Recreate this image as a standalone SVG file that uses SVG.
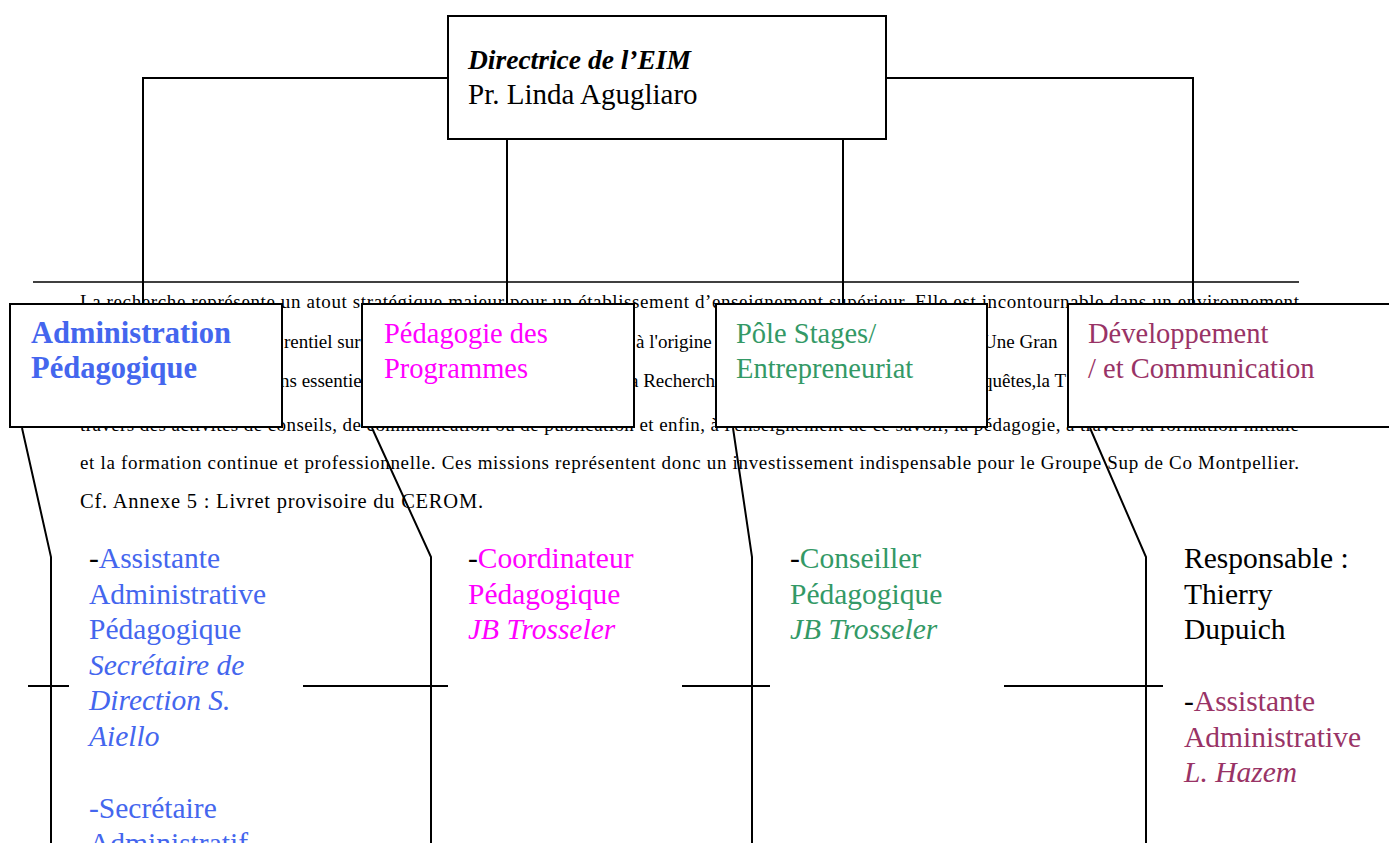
<svg xmlns="http://www.w3.org/2000/svg" width="1389" height="843" viewBox="0 0 1389 843">
<style>
.doc{font-family:"Liberation Serif",serif;font-size:19px;fill:#000}
.ln{stroke:#000;stroke-width:2;fill:none}
.box{fill:#fff;stroke:#000;stroke-width:2}
.t{font-family:"Liberation Serif",serif;font-size:29.5px}
.h{font-family:"Liberation Serif",serif;font-size:28.5px}
.it{font-style:italic}
.blue{fill:#4466EE}.mag{fill:#FF00FF}.grn{fill:#339966}.dev{fill:#993366}.blk{fill:#000}
</style>
<g id="document-text">
<line class="ln" x1="33" y1="282" x2="1299" y2="282" style="stroke-width:1.5"/>
<text class="doc" x="80" y="308" textLength="1219" lengthAdjust="spacing">La recherche représente un atout stratégique majeur pour un établissement d’enseignement supérieur. Elle est incontournable dans un environnement</text>
<text class="doc" x="284" y="348">rentiel  sur</text>
<text class="doc" x="636" y="348">à l'origine</text>
<text class="doc" x="983" y="348">Une Gran</text>
<text class="doc" x="280" y="387">ns essentie</text>
<text class="doc" x="630" y="387">a Recherche</text>
<text class="doc" x="983" y="387">quêtes,la T</text>
<text class="doc" x="80" y="431" textLength="1219" lengthAdjust="spacing">travers des activités de conseils, de communication ou de publication et enfin, à l'enseignement de ce savoir, la pédagogie, à travers la formation initiale</text>
<text class="doc" x="80" y="469" textLength="1219" lengthAdjust="spacing">et la formation continue et professionnelle. Ces missions représentent donc un investissement indispensable pour le Groupe Sup de Co Montpellier.</text>
<text class="doc" x="80" y="508" style="font-size:20.5px" textLength="403" lengthAdjust="spacing">Cf. Annexe 5 : Livret provisoire du CEROM.</text>
</g>
<g id="connectors">
<polyline class="ln" points="448,78 143,78 143,304"/>
<polyline class="ln" points="886,78 1193,78 1193,304"/>
<line class="ln" x1="507" y1="139" x2="507" y2="304"/>
<line class="ln" x1="843" y1="139" x2="843" y2="304"/>
<polyline class="ln" points="22,428 51,557 51,843"/>
<polyline class="ln" points="372,428 431,557 431,843"/>
<polyline class="ln" points="733,428 752,557 752,843"/>
<polyline class="ln" points="1090,428 1146,557 1146,843"/>
<line class="ln" x1="28" y1="686" x2="69" y2="686"/>
<line class="ln" x1="303" y1="686" x2="448" y2="686"/>
<line class="ln" x1="682" y1="686" x2="770" y2="686"/>
<line class="ln" x1="1004" y1="686" x2="1163" y2="686"/>
</g>
<g id="node-directrice">
<rect class="box" x="448" y="16" width="438" height="123"/>
<text class="blk" x="468" y="69" font-family="Liberation Serif, serif" font-size="27.5" font-weight="bold" font-style="italic">Directrice de l’EIM</text>
<text class="blk" x="468" y="104" font-family="Liberation Serif, serif" font-size="29">Pr. Linda Agugliaro</text>
</g>
<g id="node-admin">
<rect class="box" x="10" y="304" width="272" height="123"/>
<text class="h blue" x="31" y="343" style="font-weight:bold;font-size:30.5px">Administration</text>
<text class="h blue" x="31" y="378" style="font-weight:bold;font-size:30.5px">Pédagogique</text>
</g>
<g id="node-pedagogie">
<rect class="box" x="362" y="304" width="272" height="123"/>
<text class="h mag" x="384" y="343">Pédagogie des</text>
<text class="h mag" x="384" y="378">Programmes</text>
</g>
<g id="node-stages">
<rect class="box" x="716" y="304" width="271" height="123"/>
<text class="h grn" x="736" y="343">Pôle Stages/</text>
<text class="h grn" x="736" y="378">Entrepreneuriat</text>
</g>
<g id="node-dev">
<rect class="box" x="1068" y="304" width="330" height="123"/>
<text class="h dev" x="1088" y="343">Développement</text>
<text class="h dev" x="1088" y="378">/ et Communication</text>
</g>
<g id="node-admin-staff">
<text class="t blue" x="89" y="568"><tspan class="blk">-</tspan>Assistante</text>
<text class="t blue" x="89" y="604">Administrative</text>
<text class="t blue" x="89" y="639">Pédagogique</text>
<text class="t blue it" x="89" y="675">Secrétaire de</text>
<text class="t blue it" x="89" y="710">Direction S.</text>
<text class="t blue it" x="89" y="746">Aiello</text>
<text class="t blue" x="89" y="818">-Secrétaire</text>
<text class="t blue" x="89" y="853">Administratif</text>
</g>
<g id="node-pedagogie-staff">
<text class="t mag" x="468" y="568"><tspan class="blk">-</tspan>Coordinateur</text>
<text class="t mag" x="468" y="604">Pédagogique</text>
<text class="t mag it" x="468" y="639">JB Trosseler</text>
</g>
<g id="node-stages-staff">
<text class="t grn" x="790" y="568"><tspan class="blk">-</tspan>Conseiller</text>
<text class="t grn" x="790" y="604">Pédagogique</text>
<text class="t grn it" x="790" y="639">JB Trosseler</text>
</g>
<g id="node-dev-staff">
<text class="t blk" x="1184" y="568">Responsable :</text>
<text class="t blk" x="1184" y="604">Thierry</text>
<text class="t blk" x="1184" y="639">Dupuich</text>
<text class="t dev" x="1184" y="711"><tspan class="blk">-</tspan>Assistante</text>
<text class="t dev" x="1184" y="747">Administrative</text>
<text class="t dev it" x="1184" y="782">L. Hazem</text>
</g>
</svg>
